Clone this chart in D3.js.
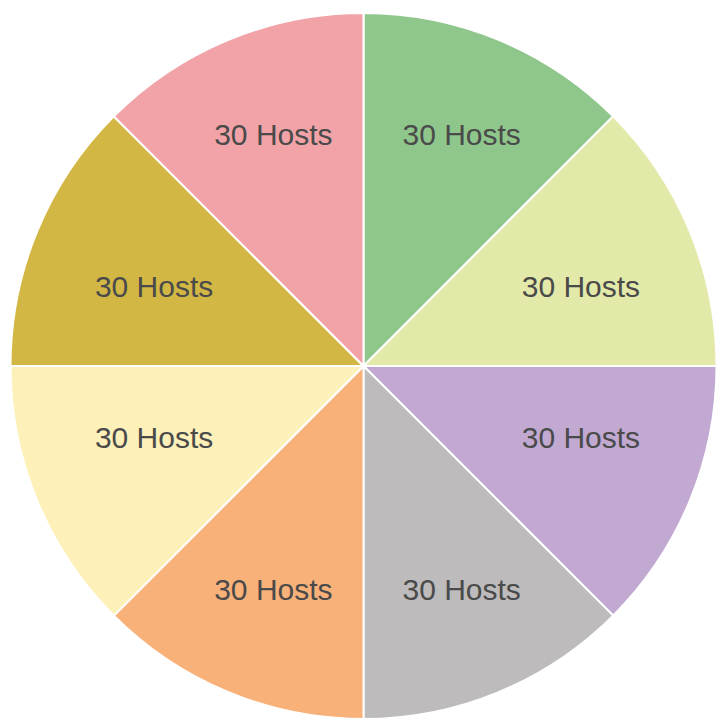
<!DOCTYPE html>
<html>
<head>
<meta charset="utf-8">
<script src="https://cdn.jsdelivr.net/npm/d3@7"></script>
<style>
  body { margin: 0; background: #fff; }
  svg { display: block; }
</style>
</head>
<body>
<svg></svg>
<script>
let width = 718, height = 719;

// slices, clockwise from 12 o'clock
const hosts = [30, 30, 30, 30, 30, 30, 30, 30];
const labels = ["30 Hosts", "30 Hosts", "30 Hosts", "30 Hosts", "30 Hosts", "30 Hosts", "30 Hosts", "30 Hosts"];
const colors = ["#8fc68b", "#e3e9a8", "#c1a9d2", "#bdbbbb", "#f9b17a", "#fdf0b9", "#d3b745", "#f2a3a7"];

let svg = d3.select("svg")
    .attr("width", width)
    .attr("height", height);

let cx = 363.5, cy = 366, radius = 353;

let pie = d3.pie().sort(null).value(d => d);
let arcs = pie(hosts);

let arc = d3.arc().innerRadius(0).outerRadius(radius);

// labels sit further out on the top/bottom slices, a bit closer on the side ones
function labelPos(d) {
    let mid = (d.startAngle + d.endAngle) / 2;
    let upright = Math.abs(Math.cos(mid)) > 0.7;
    let rx = upright ? 246 : 231;
    let ry = upright ? 246 : 196;
    return [rx * Math.sin(mid) + 4, -ry * Math.cos(mid) - 4];
}

let g = svg.append("g")
    .attr("transform", "translate(" + cx + "," + cy + ")");

g.selectAll("path")
    .data(arcs)
    .enter()
    .append("path")
    .attr("d", arc)
    .attr("fill", (d, i) => colors[i])
    .attr("stroke", "#fff")
    .attr("stroke-width", 2);

g.selectAll("text")
    .data(arcs)
    .enter()
    .append("text")
    .attr("transform", d => "translate(" + labelPos(d) + ")")
    .attr("text-anchor", "middle")
    .attr("dominant-baseline", "central")
    .attr("font-family", "Liberation Sans, Arial, sans-serif")
    .attr("font-size", "30px")
    .attr("fill", "#4a4a4a")
    .text((d, i) => labels[i]);
</script>
</body>
</html>
